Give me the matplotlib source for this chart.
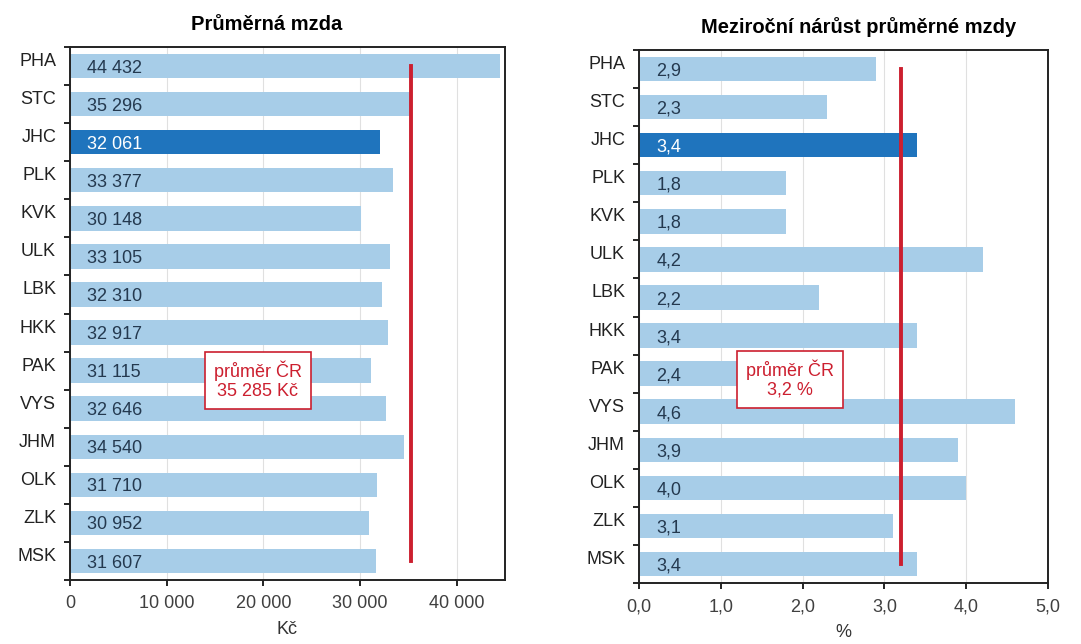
import matplotlib.pyplot as plt
from matplotlib.ticker import FixedLocator

plt.rcParams['font.family'] = ['Liberation Sans', 'DejaVu Sans']

regions = ['PHA', 'STC', 'JHC', 'PLK', 'KVK', 'ULK', 'LBK', 'HKK',
           'PAK', 'VYS', 'JHM', 'OLK', 'ZLK', 'MSK']
wage = [44432, 35296, 32061, 33377, 30148, 33105, 32310, 32917,
        31115, 32646, 34540, 31710, 30952, 31607]
growth = [2.9, 2.3, 3.4, 1.8, 1.8, 4.2, 2.2, 3.4, 2.4, 4.6, 3.9, 4.0, 3.1, 3.4]
wage_avg = 35285
growth_avg = 3.2
highlight = 'JHC'

light = '#a7cde8'
dark = '#1f74bd'
red = '#cc1f2f'


def fmt_wage(v):
    return f'{v:,}'.replace(',', ' ')


def fmt_growth(v):
    return f'{v:.1f}'.replace('.', ',')


fig = plt.figure(figsize=(10.81, 6.44), dpi=100)
ax1 = fig.add_axes([70 / 1081, 1 - 580 / 644, 435 / 1081, 533 / 644])
ax2 = fig.add_axes([639 / 1081, 1 - 583 / 644, 409 / 1081, 533 / 644])


def panel(ax, vals, avg, xmax, ticks, fmt, title, title_x, xlabel, box_xy, box_text):
    y = list(range(len(regions)))
    colors = [dark if r == highlight else light for r in regions]
    ax.barh(y, vals, height=0.64, color=colors, zorder=2)
    for yi, v, r in zip(y, vals, regions):
        ax.annotate(fmt(v), (0, yi), xytext=(12.5, -1.5), textcoords='offset points',
                    va='center', ha='left', fontsize=13,
                    color='white' if r == highlight else '#24394f', zorder=3)
    ax.plot([avg, avg], [0, len(regions) - 1], color=red, lw=2.8, zorder=4)
    ax.text(box_xy[0], box_xy[1], box_text, ha='center', va='center',
            fontsize=13, color=red, zorder=5, linespacing=1.1,
            bbox=dict(boxstyle='square,pad=0.5', fc='white', ec=red, lw=1.2))
    ax.set_xlim(0, xmax)
    ax.set_ylim(len(regions) - 0.5, -0.5)
    ax.set_xticks(ticks)
    ax.set_xticklabels([fmt(t) for t in ticks], fontsize=13, color='#404040')
    ax.yaxis.set_major_locator(FixedLocator([i - 0.5 for i in range(len(regions) + 1)]))
    ax.yaxis.set_major_formatter(plt.NullFormatter())
    ax.yaxis.set_minor_locator(FixedLocator([i - 0.17 for i in y]))
    ax.set_yticklabels(regions, minor=True, fontsize=13, color='#222222')
    ax.tick_params(axis='y', which='minor', length=0, pad=10)
    ax.tick_params(axis='y', which='major', length=4, width=1.2, direction='out')
    ax.tick_params(axis='x', length=4, width=1.2, direction='out', pad=7)
    ax.grid(axis='x', color='#e0e0e0', lw=0.8, zorder=0)
    for s in ax.spines.values():
        s.set_linewidth(1.4)
        s.set_color('#222222')
    ax.set_title(title, fontsize=14.5, fontweight='bold', pad=12, x=title_x)
    ax.set_xlabel(xlabel, fontsize=13, labelpad=6, color='#333333')


panel(ax1, wage, wage_avg, 45000, [0, 10000, 20000, 30000, 40000],
      fmt_wage, 'Průměrná mzda', 0.453, 'Kč', (19400, 8.25),
      'průměr ČR\n' + fmt_wage(wage_avg) + ' Kč')
panel(ax2, growth, growth_avg, 5.0, [0, 1, 2, 3, 4, 5],
      fmt_growth, 'Meziroční nárůst průměrné mzdy', 0.538, '%', (1.85, 8.15),
      'průměr ČR\n' + fmt_growth(growth_avg) + ' %')

fig.savefig('out.png', dpi=100)
